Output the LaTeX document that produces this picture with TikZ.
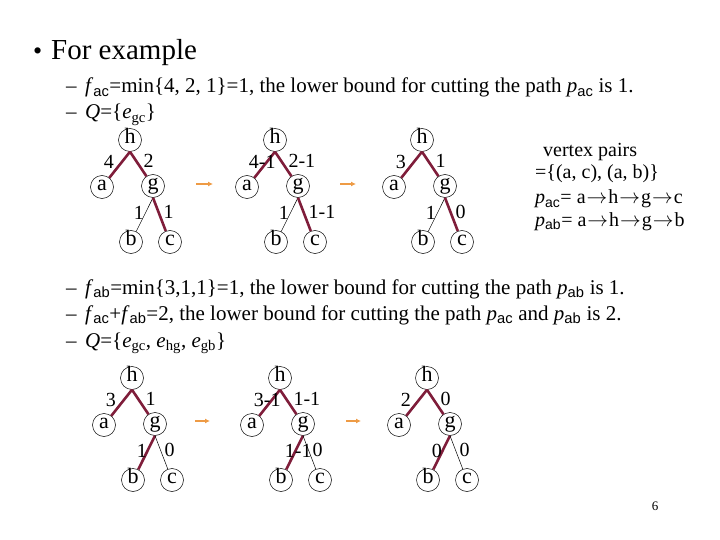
\documentclass[tikz,border=0pt]{standalone}
\usepackage{fontspec}
\setmainfont{Liberation Serif}
\setsansfont{Liberation Sans}
\usetikzlibrary{arrows.meta}
\definecolor{cutred}{HTML}{7F1D3A}
\definecolor{nextorange}{HTML}{EE9B45}
\tikzset{
  % a vertex of the tree
  vtx/.style={
    draw=black, circle, line width=0.5pt, inner sep=0pt, minimum size=23pt,
    text height=0.66em, text depth=0.05em, font=\fontsize{22}{22}\selectfont},
  % edges: in the cut set, or not
  cutedge/.style={draw=cutred, line width=2.6pt},
  thinedge/.style={draw=black, line width=0.5pt},
  % weights on the edges
  wl/.style={font=\fontsize{20}{20}\selectfont, inner sep=0pt, anchor=west},
  upl/.style={wl, midway, xshift=-17pt, yshift=3pt},
  upr/.style={wl, midway, xshift=4pt, yshift=3pt},
  lol/.style={wl, midway, xshift=-11pt, yshift=2pt},
  lor/.style={wl, midway, xshift=3pt, yshift=2pt},
  % the little orange step arrows
  nextarr/.style={-{Latex[length=5pt,width=5pt]}, draw=nextorange, line width=1.6pt},
  % slide text
  body/.style={anchor=base west, inner sep=0pt, font=\fontsize{21}{21}\selectfont},
  side/.style={anchor=base west, inner sep=0pt, font=\fontsize{20}{20}\selectfont},
}
\newcommand{\sbs}[1]{\textsubscript{\sffamily #1}}
\newcommand{\ra}{\kern1pt$\rightarrow$\kern1pt}
% five vertices of one tree, h at (#2,#3)
\newcommand{\mktree}[3]{%
  \node[vtx] (#1h) at (#2,#3) {h};
  \node[vtx] (#1a) at (#2-28,#3+47) {a};
  \node[vtx] (#1g) at (#2+23,#3+46) {g};
  \node[vtx] (#1b) at (#2+1,#3+102) {b};
  \node[vtx] (#1c) at (#2+40,#3+102) {c};}

\begin{document}
\begin{tikzpicture}[x=1pt,y=-1pt]
  \useasboundingbox (0,0) rectangle (720,540);

  % text above
  \node[anchor=base west, inner sep=0pt, font=\fontsize{26}{26}\selectfont] (bul) at (33,60) {\textbullet};
  \node[anchor=base west, inner sep=0pt, font=\fontsize{29}{29}\selectfont] (head) at (51,60) {For example};
  \node[body] (d1) at (66,93) {–};
  \node[body] (l1) at (85,93) {\textit{f}\sbs{ac}=min\{4, 2, 1\}=1, the lower bound for cutting the path \textit{p}\sbs{ac} is 1.};
  \node[body] (d2) at (66,119) {–};
  \node[body] (l2) at (85,119) {\textit{Q}=\{\textit{e}\textsubscript{gc}\}};

  % first row of trees
  \mktree{t1}{130}{140}
  \mktree{t2}{275}{140}
  \mktree{t3}{422}{140}

  \draw[cutedge] (t1h.south) -- (t1a) node[upl]{4};
  \draw[cutedge] (t1h.south) -- (t1g) node[upr]{2};
  \draw[thinedge] (t1g.south) -- (t1b) node[lol]{1};
  \draw[cutedge] (t1g.south) -- (t1c) node[lor]{1};

  \draw[cutedge] (t2h.south) -- (t2a) node[upl]{4-1};
  \draw[cutedge] (t2h.south) -- (t2g) node[upr]{2-1};
  \draw[thinedge] (t2g.south) -- (t2b) node[lol]{1};
  \draw[cutedge] (t2g.south) -- (t2c) node[lor]{1-1};

  \draw[cutedge] (t3h.south) -- (t3a) node[upl]{3};
  \draw[cutedge] (t3h.south) -- (t3g) node[upr]{1};
  \draw[thinedge] (t3g.south) -- (t3b) node[lol]{1};
  \draw[cutedge] (t3g.south) -- (t3c) node[lor]{0};

  \coordinate (s1a) at (196,184);
  \coordinate (s1b) at (213,184);
  \coordinate (s2a) at (340,184);
  \coordinate (s2b) at (356,184);
  \draw[nextarr] (s1a) -- (s1b);
  \draw[nextarr] (s2a) -- (s2b);

  \node[side] (vp1) at (543,157) {vertex pairs};
  \node[side] (vp2) at (535,179) {=\{(a, c), (a, b)\}};
  \node[side] (vp3) at (535,204) {\textit{p}\sbs{ac}= a\ra h\ra g\ra c};
  \node[side] (vp4) at (535,226) {\textit{p}\sbs{ab}= a\ra h\ra g\ra b};

  % text between the rows
  \node[body] (d3) at (66,294) {–};
  \node[body] (l3) at (85,294) {\textit{f}\sbs{ab}=min\{3,1,1\}=1, the lower bound for cutting the path \textit{p}\sbs{ab} is 1.};
  \node[body] (d4) at (66,320) {–};
  \node[body] (l4) at (85,320) {\textit{f}\sbs{ac}+\textit{f}\sbs{ab}=2, the lower bound for cutting the path \textit{p}\sbs{ac} and \textit{p}\sbs{ab} is 2.};
  \node[body] (d5) at (66,347) {–};
  \node[body] (l5) at (85,347) {\textit{Q}=\{\textit{e}\textsubscript{gc}, \textit{e}\textsubscript{hg}, \textit{e}\textsubscript{gb}\}};

  % second row of trees
  \mktree{t4}{132}{378}
  \mktree{t5}{280}{378}
  \mktree{t6}{427}{378}

  \draw[cutedge] (t4h.south) -- (t4a) node[upl]{3};
  \draw[cutedge] (t4h.south) -- (t4g) node[upr]{1};
  \draw[cutedge] (t4g.south) -- (t4b) node[lol]{1};
  \draw[thinedge] (t4g.south) -- (t4c) node[lor]{0};

  \draw[cutedge] (t5h.south) -- (t5a) node[upl]{3-1};
  \draw[cutedge] (t5h.south) -- (t5g) node[upr]{1-1};
  \draw[cutedge] (t5g.south) -- (t5b) node[lol]{1-1};
  \draw[thinedge] (t5g.south) -- (t5c) node[lor]{0};

  \draw[cutedge] (t6h.south) -- (t6a) node[upl]{2};
  \draw[cutedge] (t6h.south) -- (t6g) node[upr]{0};
  \draw[cutedge] (t6g.south) -- (t6b) node[lol]{0};
  \draw[thinedge] (t6g.south) -- (t6c) node[lor]{0};

  \coordinate (s3a) at (195,421);
  \coordinate (s3b) at (210,421);
  \coordinate (s4a) at (346,421);
  \coordinate (s4b) at (361,421);
  \draw[nextarr] (s3a) -- (s3b);
  \draw[nextarr] (s4a) -- (s4b);

  \node[anchor=base, inner sep=0pt, font=\fontsize{13}{13}\selectfont] (pgno) at (655,510) {6};
\end{tikzpicture}
\end{document}
